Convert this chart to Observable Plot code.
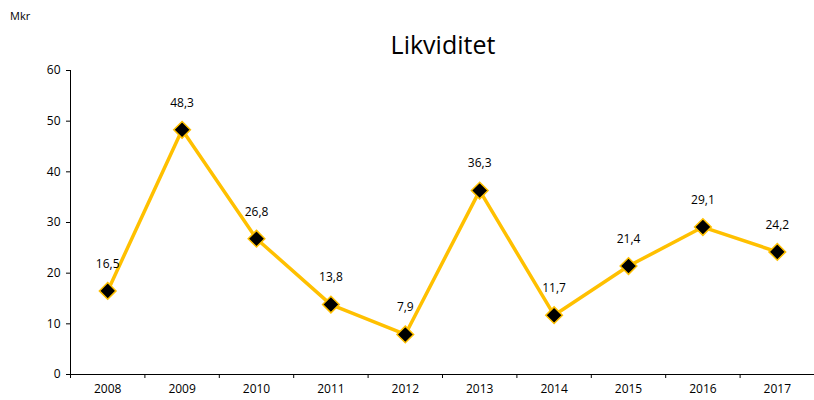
<!DOCTYPE html>
<html><head><meta charset="utf-8">
<script src="https://cdn.jsdelivr.net/npm/d3@7"></script>
<script src="https://cdn.jsdelivr.net/npm/@observablehq/plot@0.6"></script>
<style>
body{margin:0;background:#fff;}
#wrap{position:relative;width:814px;height:400px;font-family:"Open Sans",sans-serif;}
#title{position:absolute;left:0;width:886px;top:27px;text-align:center;font-size:25px;color:#000;}
#unit{position:absolute;left:10px;top:8px;font-size:11px;color:#000;}
</style></head>
<body>
<div id="wrap"><div id="chart"></div><div id="title">Likviditet</div><div id="unit">Mkr</div></div>
<script>
const years = [2008, 2009, 2010, 2011, 2012, 2013, 2014, 2015, 2016, 2017];
const values = [16.5, 48.3, 26.8, 13.8, 7.9, 36.3, 11.7, 21.4, 29.1, 24.2];
const yTicks = [0, 10, 20, 30, 40, 50, 60];
const data = years.map((y, i) => ({year: y, value: values[i], label: values[i].toFixed(1).replace(".", ",")}));
const bounds = d3.range(years.length + 1).map(i => years[0] - 0.5 + i);

const chart = Plot.plot({
  width: 814, height: 400,
  marginLeft: 70, marginRight: 0, marginTop: 70, marginBottom: 26,
  style: {fontFamily: "Open Sans, sans-serif", fontSize: "12px", color: "#000"},
  x: {domain: [years[0] - 0.5, years[years.length - 1] + 0.5]},
  y: {domain: [0, 60]},
  marks: [
    Plot.axisY({ticks: yTicks, tickSize: 4, tickPadding: 6, label: null, tickFormat: d => d}),
    Plot.axisX({ticks: bounds, tickSize: 4, tickFormat: () => "", label: null}),
    Plot.axisX({ticks: years, tickSize: 0, tickPadding: 10, tickFormat: d => String(d), label: null}),
    Plot.ruleX([years[0] - 0.5], {stroke: "#000", strokeWidth: 1}),
    Plot.ruleY([0], {stroke: "#000", strokeWidth: 1}),
    Plot.line(data, {x: "year", y: "value", stroke: "#FFC000", strokeWidth: 3.5}),
    Plot.dot(data, {x: "year", y: "value", symbol: "diamond2", r: 7.5, fill: "#000", stroke: "#FFC000", strokeWidth: 1.5}),
    Plot.text(data, {x: "year", y: "value", text: "label", dy: -27, fontSize: 12, fill: "#000"})
  ]
});
document.getElementById("chart").appendChild(chart);
</script>
</body></html>
